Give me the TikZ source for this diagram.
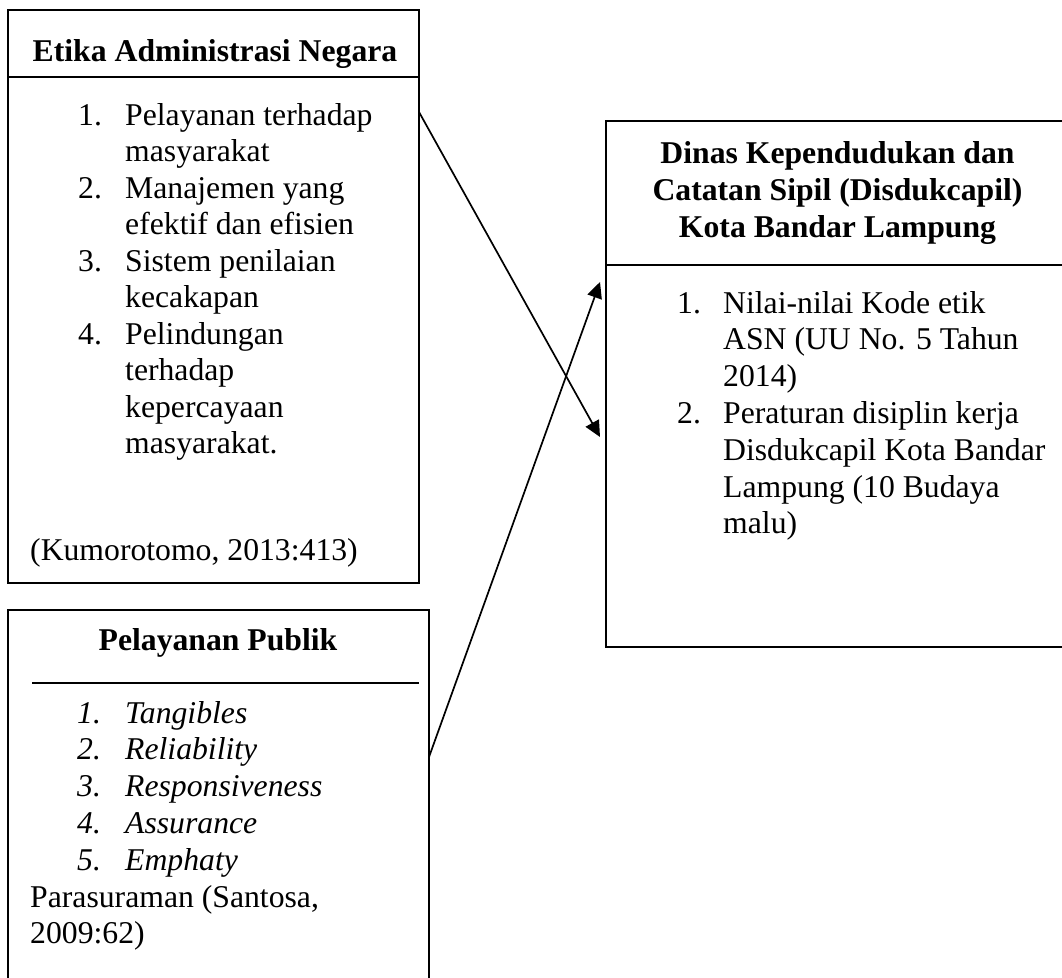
\documentclass[tikz,border=0pt]{standalone}
\usepackage{fontspec}
\setmainfont{Liberation Serif}
\usetikzlibrary{arrows.meta,calc}
\begin{document}
\begin{tikzpicture}[x=1pt,y=-1pt,
  box/.style={draw, line width=1.8pt, inner sep=0pt, outer sep=0pt, anchor=north west},
  txt/.style={inner sep=0pt, anchor=base west, font=\fontsize{31.7}{36.5}\selectfont},
  itxt/.style={txt, font=\fontsize{31.7}{36.5}\selectfont\itshape},
  hdr/.style={inner sep=0pt, anchor=base, font=\fontsize{31.7}{36.5}\selectfont\bfseries},
  rulel/.style={line width=1.8pt},
  arr/.style={line width=1.7pt, -{Triangle[length=16pt,width=15pt]}}]
\useasboundingbox (0,0) rectangle (1062,977);

% boxes
\node[box, minimum width=411pt, minimum height=573pt] (etika) at (8,10) {};
\node[box, minimum width=421pt, minimum height=380pt] (pelayanan) at (8,610) {};
\node[box, minimum width=470pt, minimum height=526pt] (dinas) at (606,121) {};

% dividers
\draw[rulel] (etika.west |- 0,77) -- (etika.east |- 0,77);
\draw[rulel] (32,683) -- (419,683);
\draw[rulel] (dinas.west |- 0,265) -- (dinas.east |- 0,265);

% headers
\node[hdr] (h1) at (215,61) {Etika Administrasi Negara};
\node[hdr] (h2) at (218,650) {Pelayanan Publik};
\node[hdr] (h3a) at (837.5,163) {Dinas Kependudukan dan};
\node[hdr] (h3b) at (837.5,200) {Catatan Sipil (Disdukcapil)};
\node[hdr] (h3c) at (837.5,237) {Kota Bandar Lampung};

% Etika list
\foreach \n/\k in {1./0, 2./2, 3./4, 4./6}
  \node[txt] (en\k) at (78,{125+36.5*\k}) {\n};
\foreach \t [count=\i] in {Pelayanan terhadap, masyarakat, Manajemen yang,
    efektif dan efisien, Sistem penilaian, kecakapan, Pelindungan, terhadap,
    kepercayaan, masyarakat.}
  \node[txt] (et\i) at (125,{125+36.5*(\i-1)}) {\t};
\node[txt] (kumo) at (30,560) {(Kumorotomo, 2013:413)};

% Pelayanan list
\foreach \t [count=\i] in {Tangibles, Reliability, Responsiveness, Assurance, Emphaty}
  {\node[itxt] (pn\i) at (77,{723+36.8*(\i-1)}) {\i.};
   \node[itxt] (pt\i) at (125,{723+36.8*(\i-1)}) {\t};}
\node[txt] (para1) at (30,907) {Parasuraman (Santosa,};
\node[txt] (para2) at (30,943) {2009:62)};

% Dinas list
\node[txt] (dn1) at (677,313) {1.};
\node[txt] (dn2) at (677,423.4) {2.};
\foreach \t [count=\i] in {Nilai-nilai Kode etik, ASN (UU No. 5 Tahun, 2014),
    Peraturan disiplin kerja, Disdukcapil Kota Bandar, Lampung (10 Budaya, malu)}
  \node[txt] (dt\i) at (723,{313+36.8*(\i-1)}) {\t};

% connectors
\draw[arr] (etika.east |- 0,112) -- ($(dinas.west |- 0,437)+(-6,0)$);
\draw[arr] (pelayanan.east |- 0,757) -- ($(dinas.west |- 0,282)+(-6,0)$);
\end{tikzpicture}
\end{document}
